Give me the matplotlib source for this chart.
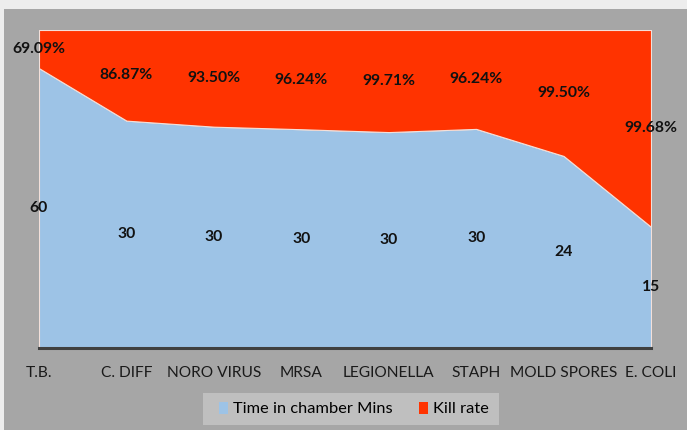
import matplotlib
matplotlib.use("Agg")
import matplotlib.pyplot as plt
from matplotlib.patches import Rectangle, Patch

categories = ["T.B.", "C. DIFF", "NORO VIRUS", "MRSA", "LEGIONELLA", "STAPH", "MOLD SPORES", "E. COLI"]
time_mins = [60, 30, 30, 30, 30, 30, 24, 15]
kill_rate = [69.09, 86.87, 93.50, 96.24, 99.71, 96.24, 99.50, 99.68]
# share of the 100% stacked area taken by each series
time_share = [88.0, 71.5, 69.6, 68.8, 67.9, 68.9, 60.4, 38.1]
kill_share = [12.0, 28.5, 30.4, 31.2, 32.1, 31.1, 39.6, 61.9]

BLUE = "#9DC3E6"
RED = "#FF3300"
PANEL = "#A6A6A6"

plt.rcParams['font.family'] = ['Lato', 'DejaVu Sans']

fig = plt.figure(figsize=(6.87, 4.30), dpi=100)
fig.patch.set_facecolor("#EDEDED")
bg = Rectangle((4/687, 0), 1, 1 - 9/430, transform=fig.transFigure,
               facecolor=PANEL, edgecolor="none", zorder=-10)
fig.add_artist(bg)
legbox = Rectangle((203/687, 1 - 425/430), 296/687, 32/430, transform=fig.transFigure,
                   facecolor="#BFBFBF", edgecolor="none", zorder=-5)
fig.add_artist(legbox)

ax = fig.add_axes([39/687, 1 - 348/430, 612/687, 318/430])
ax.set_zorder(5)
ax.set_facecolor("none")
x = list(range(len(categories)))
ax.stackplot(x, time_share, kill_share, colors=[BLUE, RED],
             edgecolor="#F3E0DA", linewidth=0.8)
ax.set_xlim(0, len(categories) - 1)
ax.set_ylim(0, 100)
ax.set_yticks([])
ax.set_xticks(x)
ax.set_xticklabels(categories, fontsize=11.2, color="#1a1a1a")
ax.tick_params(axis="x", length=0, pad=13)
for s in ["top", "left", "right"]:
    ax.spines[s].set_visible(False)
ax.spines["bottom"].set_color("#404040")
ax.spines["bottom"].set_linewidth(2.2)

for i in x:
    ax.text(i, time_share[i] / 2, f"{time_mins[i]}", ha="center", va="center",
            fontsize=11.3, fontweight="bold", color="#111111", clip_on=False)
    ax.text(i, time_share[i] + kill_share[i] / 2, f"{kill_rate[i]:.2f}%", ha="center", va="center",
            fontsize=11.3, fontweight="bold", color="#111111", clip_on=False)

handles = [Patch(facecolor=BLUE, edgecolor="none", label="Time in chamber Mins"),
           Patch(facecolor=RED, edgecolor="none", label="Kill rate")]
leg = fig.legend(handles=handles, loc="center", bbox_to_anchor=(354/687, 1 - 409/430),
                 ncol=2, frameon=False, fontsize=11.8, handlelength=0.55, handleheight=0.8,
                 handletextpad=0.3, columnspacing=1.6, borderpad=0.2)
leg.set_zorder(6)

fig.savefig("out.png", dpi=100, facecolor=fig.get_facecolor())
